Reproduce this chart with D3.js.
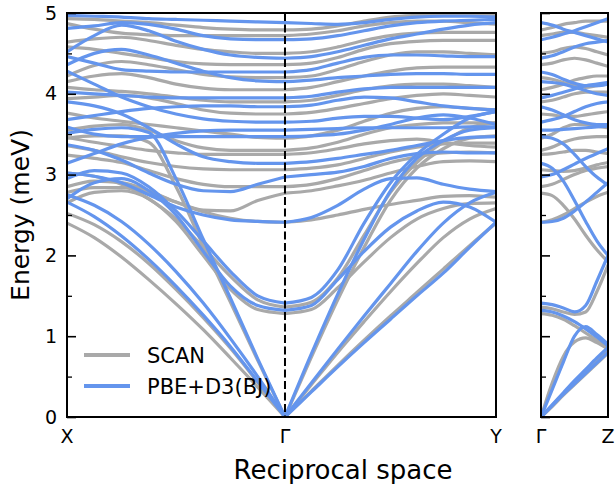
<!DOCTYPE html>
<html>
<head>
<meta charset="utf-8">
<script src="https://cdn.jsdelivr.net/npm/d3@7"></script>
<style>
  html, body { margin: 0; padding: 0; background: #fff; }
  svg { display: block; font-family: "DejaVu Sans", sans-serif; }
</style>
</head>
<body>
<svg id="chart" width="616" height="484"></svg>
<script>
// Phonon dispersion: SCAN vs PBE+D3(BJ). Each band is sampled at evenly spaced
// points along its path segment (energies in meV).
const seriesNames = ["SCAN", "PBE+D3(BJ)"];
const seriesColors = ["#a9a9a9", "#6495ed"];

const mainPathLabels = ["X", "Γ", "Y"];
const mainPathDist = [0, 1, 1.968];
const sidePathLabels = ["Γ", "Z"];
const sidePathDist = [0, 1];

const energyTicks = [0, 1, 2, 3, 4, 5];
const energyMinorTicks = [0.5, 1.5, 2.5, 3.5, 4.5];

// X -> Γ, 9 samples per band
const scanXG = [
  [4.93, 4.92, 4.90, 4.88, 4.85, 4.82, 4.80, 4.79, 4.79],
  [4.87, 4.80, 4.75, 4.73, 4.72, 4.72, 4.72, 4.72, 4.72],
  [4.64, 4.68, 4.70, 4.66, 4.60, 4.55, 4.52, 4.50, 4.50],
  [4.58, 4.55, 4.50, 4.45, 4.40, 4.37, 4.36, 4.36, 4.36],
  [4.22, 4.35, 4.40, 4.36, 4.30, 4.24, 4.21, 4.20, 4.20],
  [4.15, 4.22, 4.25, 4.20, 4.12, 4.07, 4.05, 4.05, 4.05],
  [4.08, 4.05, 4.03, 4.00, 3.96, 3.92, 3.90, 3.90, 3.90],
  [3.94, 3.96, 3.98, 3.95, 3.88, 3.80, 3.76, 3.75, 3.75],
  [3.76, 3.70, 3.66, 3.62, 3.58, 3.54, 3.50, 3.46, 3.45],
  [3.55, 3.60, 3.62, 3.55, 3.42, 3.33, 3.30, 3.30, 3.30],
  [3.46, 3.40, 3.35, 3.30, 3.27, 3.25, 3.25, 3.25, 3.25],
  [3.36, 3.30, 3.22, 3.15, 3.10, 3.07, 3.06, 3.06, 3.06],
  [3.24, 3.20, 3.15, 3.05, 2.95, 2.88, 2.85, 2.85, 2.85],
  [2.85, 2.92, 2.90, 2.80, 2.66, 2.56, 2.55, 2.68, 2.77],
  [2.78, 2.84, 2.84, 2.78, 2.66, 2.54, 2.46, 2.42, 2.41],
  [3.02, 2.98, 2.88, 2.70, 2.45, 2.10, 1.74, 1.45, 1.36],
  [2.65, 2.78, 2.80, 2.70, 2.42, 2.00, 1.58, 1.33, 1.28],
  [3.45, 3.48, 3.48, 3.40, 2.85, 2.12, 1.42, 0.70, 0.00],
  [2.52, 2.38, 2.17, 1.90, 1.58, 1.23, 0.85, 0.43, 0.00],
  [2.40, 2.22, 1.98, 1.70, 1.40, 1.08, 0.73, 0.37, 0.00]
];
const pbeXG = [
  [4.97, 4.96, 4.95, 4.93, 4.92, 4.91, 4.90, 4.89, 4.88],
  [4.81, 4.84, 4.88, 4.86, 4.80, 4.72, 4.68, 4.67, 4.67],
  [4.52, 4.72, 4.85, 4.78, 4.65, 4.55, 4.48, 4.45, 4.44],
  [4.36, 4.50, 4.55, 4.48, 4.38, 4.28, 4.20, 4.16, 4.15],
  [4.46, 4.38, 4.30, 4.28, 4.27, 4.27, 4.27, 4.27, 4.27],
  [4.02, 4.00, 3.98, 3.96, 3.95, 3.95, 3.95, 3.95, 3.95],
  [4.28, 4.12, 3.96, 3.84, 3.75, 3.69, 3.66, 3.65, 3.65],
  [3.68, 3.73, 3.78, 3.82, 3.84, 3.85, 3.85, 3.84, 3.84],
  [3.59, 3.50, 3.47, 3.47, 3.47, 3.47, 3.47, 3.47, 3.47],
  [3.14, 3.26, 3.38, 3.46, 3.51, 3.54, 3.55, 3.55, 3.55],
  [3.90, 3.85, 3.75, 3.58, 3.38, 3.22, 3.16, 3.14, 3.14],
  [3.37, 3.30, 3.18, 3.02, 2.88, 2.80, 2.79, 2.88, 2.97],
  [3.02, 2.98, 2.90, 2.75, 2.60, 2.50, 2.44, 2.42, 2.41],
  [2.95, 3.05, 3.02, 2.85, 2.55, 2.18, 1.80, 1.50, 1.41],
  [2.70, 2.90, 2.95, 2.80, 2.50, 2.05, 1.62, 1.38, 1.32],
  [3.51, 3.56, 3.58, 3.52, 2.95, 2.20, 1.47, 0.72, 0.00],
  [2.75, 2.62, 2.42, 2.14, 1.80, 1.41, 0.97, 0.50, 0.00],
  [2.66, 2.48, 2.24, 1.95, 1.62, 1.26, 0.87, 0.44, 0.00]
];

// Γ -> Y, 9 samples per band
const scanGY = [
  [4.79, 4.80, 4.84, 4.90, 4.95, 4.97, 4.98, 4.98, 4.97],
  [4.72, 4.74, 4.78, 4.84, 4.88, 4.90, 4.90, 4.88, 4.86],
  [4.50, 4.52, 4.58, 4.66, 4.72, 4.75, 4.76, 4.76, 4.76],
  [4.36, 4.38, 4.45, 4.55, 4.62, 4.65, 4.66, 4.66, 4.66],
  [4.20, 4.22, 4.30, 4.40, 4.48, 4.52, 4.52, 4.50, 4.48],
  [4.05, 4.08, 4.15, 4.22, 4.28, 4.32, 4.33, 4.33, 4.33],
  [3.90, 3.92, 3.98, 4.05, 4.10, 4.12, 4.12, 4.10, 4.08],
  [3.75, 3.77, 3.82, 3.88, 3.94, 3.98, 4.00, 3.98, 3.96],
  [3.45, 3.48, 3.55, 3.66, 3.76, 3.82, 3.84, 3.82, 3.80],
  [3.30, 3.33, 3.40, 3.50, 3.58, 3.62, 3.64, 3.64, 3.64],
  [3.25, 3.27, 3.32, 3.38, 3.42, 3.44, 3.40, 3.36, 3.34],
  [3.06, 3.08, 3.12, 3.20, 3.28, 3.34, 3.38, 3.39, 3.39],
  [2.85, 2.88, 2.95, 3.05, 3.15, 3.22, 3.27, 3.28, 3.27],
  [2.77, 2.80, 2.86, 2.93, 3.02, 3.10, 3.16, 3.17, 3.16],
  [2.41, 2.44, 2.50, 2.57, 2.63, 2.68, 2.73, 2.74, 2.72],
  [1.36, 1.42, 1.72, 2.25, 2.78, 3.15, 3.40, 3.58, 3.64],
  [1.28, 1.33, 1.60, 1.92, 2.22, 2.45, 2.58, 2.64, 2.65],
  [0.00, 0.74, 1.45, 2.10, 2.68, 3.08, 3.32, 3.45, 3.48],
  [0.00, 0.40, 0.80, 1.18, 1.55, 1.90, 2.22, 2.45, 2.58],
  [0.00, 0.32, 0.64, 0.95, 1.25, 1.54, 1.83, 2.12, 2.40]
];
const pbeGY = [
  [4.88, 4.87, 4.86, 4.88, 4.92, 4.95, 4.96, 4.96, 4.95],
  [4.67, 4.68, 4.72, 4.78, 4.84, 4.88, 4.90, 4.91, 4.92],
  [4.44, 4.46, 4.52, 4.60, 4.68, 4.74, 4.80, 4.85, 4.88],
  [4.27, 4.30, 4.38, 4.45, 4.48, 4.48, 4.47, 4.46, 4.46],
  [4.15, 4.17, 4.20, 4.22, 4.24, 4.25, 4.25, 4.24, 4.24],
  [3.95, 3.97, 4.02, 4.06, 4.08, 4.08, 4.08, 4.08, 4.08],
  [3.84, 3.86, 3.92, 3.96, 3.95, 3.90, 3.85, 3.82, 3.80],
  [3.65, 3.66, 3.70, 3.72, 3.72, 3.70, 3.68, 3.72, 3.78],
  [3.55, 3.56, 3.57, 3.58, 3.58, 3.58, 3.58, 3.59, 3.59],
  [3.47, 3.48, 3.50, 3.55, 3.62, 3.70, 3.74, 3.70, 3.62],
  [3.14, 3.16, 3.20, 3.25, 3.30, 3.36, 3.42, 3.46, 3.47],
  [2.97, 3.00, 3.03, 3.10, 3.20, 3.26, 3.28, 3.27, 3.27],
  [2.41, 2.47, 2.62, 2.82, 2.95, 2.96, 2.88, 2.82, 2.79],
  [1.41, 1.48, 1.82, 2.40, 2.90, 3.25, 3.50, 3.70, 3.78],
  [1.32, 1.38, 1.70, 2.05, 2.35, 2.55, 2.66, 2.60, 2.41],
  [0.00, 0.78, 1.52, 2.20, 2.80, 3.20, 3.42, 3.55, 3.58],
  [0.00, 0.42, 0.84, 1.25, 1.65, 2.05, 2.40, 2.65, 2.78],
  [0.00, 0.31, 0.62, 0.92, 1.21, 1.50, 1.78, 2.10, 2.41]
];

// Γ -> Z, 7 samples per band
const scanGZ = [
  [4.79, 4.82, 4.86, 4.88, 4.90, 4.90, 4.90],
  [4.72, 4.74, 4.76, 4.76, 4.74, 4.72, 4.70],
  [4.50, 4.52, 4.56, 4.58, 4.56, 4.52, 4.48],
  [4.36, 4.38, 4.42, 4.44, 4.42, 4.38, 4.34],
  [4.20, 4.18, 4.14, 4.10, 4.08, 4.10, 4.12],
  [4.05, 4.08, 4.12, 4.17, 4.20, 4.22, 4.22],
  [3.90, 3.92, 3.96, 4.00, 4.02, 4.02, 4.02],
  [3.75, 3.74, 3.72, 3.72, 3.74, 3.76, 3.78],
  [3.45, 3.50, 3.58, 3.62, 3.62, 3.60, 3.58],
  [3.30, 3.34, 3.40, 3.44, 3.46, 3.47, 3.47],
  [3.25, 3.26, 3.28, 3.30, 3.30, 3.28, 3.26],
  [3.06, 3.05, 3.04, 3.05, 3.08, 3.12, 3.15],
  [2.85, 2.88, 2.94, 3.00, 3.05, 3.08, 3.10],
  [2.77, 2.74, 2.62, 2.45, 2.25, 2.07, 1.92],
  [2.41, 2.44, 2.50, 2.58, 2.66, 2.73, 2.78],
  [1.36, 1.34, 1.30, 1.27, 1.30, 1.55, 1.88],
  [1.28, 1.26, 1.21, 1.13, 1.04, 0.95, 0.85],
  [0.00, 0.42, 0.75, 0.93, 0.98, 0.92, 0.84],
  [0.00, 0.14, 0.29, 0.43, 0.57, 0.70, 0.83],
  [0.00, 0.13, 0.27, 0.40, 0.53, 0.66, 0.79]
];
const pbeGZ = [
  [4.88, 4.85, 4.80, 4.76, 4.72, 4.68, 4.64],
  [4.67, 4.70, 4.74, 4.78, 4.83, 4.88, 4.93],
  [4.44, 4.47, 4.52, 4.58, 4.62, 4.64, 4.66],
  [4.27, 4.24, 4.18, 4.13, 4.10, 4.10, 4.12],
  [4.15, 4.14, 4.12, 4.08, 4.04, 4.00, 3.98],
  [3.95, 3.98, 4.02, 4.06, 4.10, 4.12, 4.14],
  [3.84, 3.80, 3.74, 3.68, 3.64, 3.62, 3.62],
  [3.65, 3.68, 3.72, 3.78, 3.84, 3.88, 3.90],
  [3.55, 3.55, 3.56, 3.57, 3.58, 3.59, 3.60],
  [3.47, 3.45, 3.38, 3.25, 3.10, 2.97, 2.87],
  [3.14, 3.08, 2.92, 2.68, 2.42, 2.18, 2.00],
  [2.97, 3.00, 3.06, 3.13, 3.20, 3.26, 3.32],
  [2.41, 2.42, 2.46, 2.55, 2.66, 2.78, 2.90],
  [1.41, 1.39, 1.35, 1.30, 1.38, 1.68, 2.00],
  [1.32, 1.30, 1.25, 1.18, 1.09, 0.99, 0.88],
  [0.00, 0.34, 0.68, 1.00, 1.12, 1.02, 0.90],
  [0.00, 0.15, 0.30, 0.45, 0.59, 0.73, 0.86],
  [0.00, 0.14, 0.28, 0.41, 0.54, 0.67, 0.80]
];

// ---------------------------------------------------------------------------
const svg = d3.select("#chart");
const plotTop = 13, plotBottom = 417;
const mainLeft = 67, mainRight = 496;
const sideLeft = 541, sideRight = 608;

const y = d3.scaleLinear().domain([0, 5]).range([plotBottom, plotTop]);
const xMain = d3.scaleLinear()
  .domain([mainPathDist[0], mainPathDist[mainPathDist.length - 1]])
  .range([mainLeft, mainRight]);
const xSide = d3.scaleLinear()
  .domain([sidePathDist[0], sidePathDist[1]])
  .range([sideLeft, sideRight]);

const defs = svg.append("defs");
defs.append("clipPath").attr("id", "clipMain").append("rect")
  .attr("x", mainLeft).attr("y", plotTop)
  .attr("width", mainRight - mainLeft).attr("height", plotBottom - plotTop);
defs.append("clipPath").attr("id", "clipSide").append("rect")
  .attr("x", sideLeft).attr("y", plotTop)
  .attr("width", sideRight - sideLeft).attr("height", plotBottom - plotTop);

const line = d3.line()
  .x(d => d[0]).y(d => d[1])
  .curve(d3.curveMonotoneX);

// turn a band's samples into pixel points on a segment [k0, k1]
function bandPoints(vals, xs, k0, k1) {
  const n = vals.length - 1;
  return vals.map((e, i) => [xs(k0 + (k1 - k0) * i / n), y(e)]);
}

function drawBands(g, bands, xs, k0, k1, color) {
  g.selectAll(null)
    .data(bands)
    .enter().append("path")
    .attr("d", b => line(bandPoints(b, xs, k0, k1)))
    .attr("fill", "none")
    .attr("stroke", color)
    .attr("stroke-width", 3.2)
    .attr("stroke-linejoin", "round")
    .attr("stroke-linecap", "round");
}

const gMain = svg.append("g").attr("clip-path", "url(#clipMain)");
const gSide = svg.append("g").attr("clip-path", "url(#clipSide)");

// SCAN underneath, PBE+D3(BJ) on top
drawBands(gMain, scanXG, xMain, mainPathDist[0], mainPathDist[1], seriesColors[0]);
drawBands(gMain, scanGY, xMain, mainPathDist[1], mainPathDist[2], seriesColors[0]);
drawBands(gSide, scanGZ, xSide, sidePathDist[0], sidePathDist[1], seriesColors[0]);
drawBands(gMain, pbeXG, xMain, mainPathDist[0], mainPathDist[1], seriesColors[1]);
drawBands(gMain, pbeGY, xMain, mainPathDist[1], mainPathDist[2], seriesColors[1]);
drawBands(gSide, pbeGZ, xSide, sidePathDist[0], sidePathDist[1], seriesColors[1]);

// dashed marker at Γ
svg.append("line")
  .attr("x1", xMain(mainPathDist[1])).attr("x2", xMain(mainPathDist[1]))
  .attr("y1", plotTop).attr("y2", plotBottom)
  .attr("stroke", "#000").attr("stroke-width", 2)
  .attr("stroke-dasharray", "8,3.5");

// y axes: inward ticks
function yAxis(x0, labels) {
  const gMajor = svg.append("g").attr("transform", `translate(${x0},0)`)
    .call(d3.axisLeft(y).tickValues(energyTicks).tickSize(-9).tickPadding(10)
      .tickFormat(labels ? d3.format("d") : () => ""));
  gMajor.select(".domain").remove();
  gMajor.selectAll(".tick line").attr("stroke", "#000").attr("stroke-width", 1.6);
  gMajor.selectAll(".tick text")
    .attr("font-family", "DejaVu Sans, sans-serif")
    .attr("font-size", 19).attr("fill", "#000");
  const gMinor = svg.append("g").attr("transform", `translate(${x0},0)`)
    .call(d3.axisLeft(y).tickValues(energyMinorTicks).tickSize(-5).tickFormat(() => ""));
  gMinor.select(".domain").remove();
  gMinor.selectAll(".tick line").attr("stroke", "#000").attr("stroke-width", 1.3);
}
yAxis(mainLeft, true);
yAxis(sideLeft, false);

// frames
[[mainLeft, mainRight], [sideLeft, sideRight]].forEach(([l, r]) => {
  svg.append("rect")
    .attr("x", l).attr("y", plotTop)
    .attr("width", r - l).attr("height", plotBottom - plotTop)
    .attr("fill", "none").attr("stroke", "#000").attr("stroke-width", 2);
});

// high-symmetry point labels
function pathLabels(labels, dists, xs) {
  svg.selectAll(null)
    .data(labels.map((l, i) => [l, dists[i]]))
    .enter().append("text")
    .attr("x", d => xs(d[1]))
    .attr("y", 443)
    .attr("text-anchor", "middle")
    .attr("font-size", 19)
    .attr("fill", "#000")
    .text(d => d[0]);
}
pathLabels(mainPathLabels, mainPathDist, xMain);
pathLabels(sidePathLabels, sidePathDist, xSide);

// axis titles
svg.append("text")
  .attr("transform", "translate(29,215) rotate(-90)")
  .attr("text-anchor", "middle")
  .attr("font-size", 25)
  .attr("fill", "#000")
  .text("Energy (meV)");
svg.append("text")
  .attr("x", 343).attr("y", 479)
  .attr("text-anchor", "middle")
  .attr("font-size", 26)
  .attr("fill", "#000")
  .text("Reciprocal space");

// legend
const legend = svg.append("g").attr("transform", "translate(84,355)");
seriesNames.forEach((name, i) => {
  const row = legend.append("g").attr("transform", `translate(0,${i * 31})`);
  row.append("line")
    .attr("x1", 0).attr("x2", 46).attr("y1", 0).attr("y2", 0)
    .attr("stroke", seriesColors[i]).attr("stroke-width", 4);
  row.append("text")
    .attr("x", 63).attr("y", 7.5)
    .attr("font-size", 21)
    .attr("fill", "#000")
    .text(name);
});
</script>
</body>
</html>
